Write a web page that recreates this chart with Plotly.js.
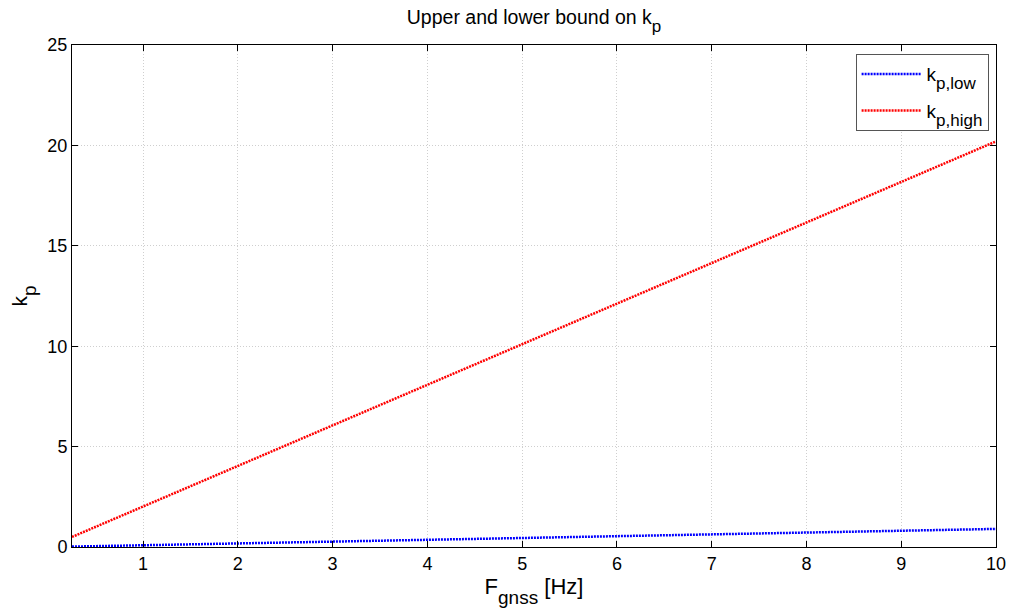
<!DOCTYPE html>
<html><head><meta charset="utf-8">
<script src="https://cdn.plot.ly/plotly-3.0.1.min.js"></script>
<style>html,body{margin:0;padding:0;background:#fff}#chart{width:1016px;height:612px}</style>
</head><body><div id="chart"></div>
<script>
const fGnss = [0.25, 1, 2, 3, 4, 5, 6, 7, 8, 9, 10];
const kpLow = [0.02, 0.09, 0.18, 0.27, 0.36, 0.45, 0.54, 0.63, 0.72, 0.81, 0.9];
const kpHigh = [0.5, 2.02, 4.04, 6.06, 8.08, 10.1, 12.12, 14.14, 16.16, 18.18, 20.2];
const seriesNames = ['k<sub><span style="font-size:17px;baseline-shift:-4px">p,low</span></sub>', 'k<sub><span style="font-size:17px;baseline-shift:-4px">p,high</span></sub>'];
const xTicks = [1, 2, 3, 4, 5, 6, 7, 8, 9, 10];
const yTicks = [0, 5, 10, 15, 20, 25];

const font = 'Liberation Sans, Arial, sans-serif';
const traces = [
  {x: fGnss, y: kpLow, name: seriesNames[0], legendgroup: 'a', mode: 'lines', line: {color: '#0000ff', width: 2.5, dash: '2px,1px'}},
  {x: fGnss, y: kpHigh, name: seriesNames[1], legendgroup: 'b', mode: 'lines', line: {color: '#ff0000', width: 2.5, dash: '2px,1px'}}
];
const axisCommon = {
  showline: true, linecolor: '#000', linewidth: 1, mirror: 'ticks',
  ticks: 'inside', ticklen: 6, tickcolor: '#000',
  showgrid: true, gridcolor: '#cfcfcf', griddash: '1px,2px', gridwidth: 1,
  zeroline: false, tickfont: {family: font, size: 18, color: '#000'}
};
const layout = {
  width: 1016, height: 612,
  paper_bgcolor: '#fff', plot_bgcolor: '#fff',
  margin: {l: 72, r: 20, t: 45, b: 65},
  title: {text: 'Upper and lower bound on k<sub><span style="font-size:17px;baseline-shift:-4px">p</span></sub>', font: {family: font, size: 19.5, color: '#000'},
    xref: 'paper', x: 0.5, xanchor: 'center', yref: 'container', y: 0.972, yanchor: 'middle'},
  xaxis: Object.assign({}, axisCommon, {range: [0.25, 10], tickvals: xTicks,
    title: {text: 'F<sub><span style="font-size:19px;baseline-shift:-5px">gnss</span></sub> [Hz]', font: {family: font, size: 22, color: '#000'}, standoff: 6}}),
  yaxis: Object.assign({}, axisCommon, {range: [0, 25], tickvals: yTicks,
    title: {text: 'k<sub><span style="font-size:19px;baseline-shift:-5px">p</span></sub>', font: {family: font, size: 21, color: '#000'}, standoff: 14}}),
  showlegend: true,
  legend: {x: 0.992, y: 0.982, xanchor: 'right', yanchor: 'top', bgcolor: '#fff', bordercolor: '#555', borderwidth: 1,
    font: {family: font, size: 19, color: '#000'}, tracegroupgap: 9, itemwidth: 60}
};
Plotly.newPlot('chart', traces, layout, {staticPlot: true, displayModeBar: false});
</script></body></html>
